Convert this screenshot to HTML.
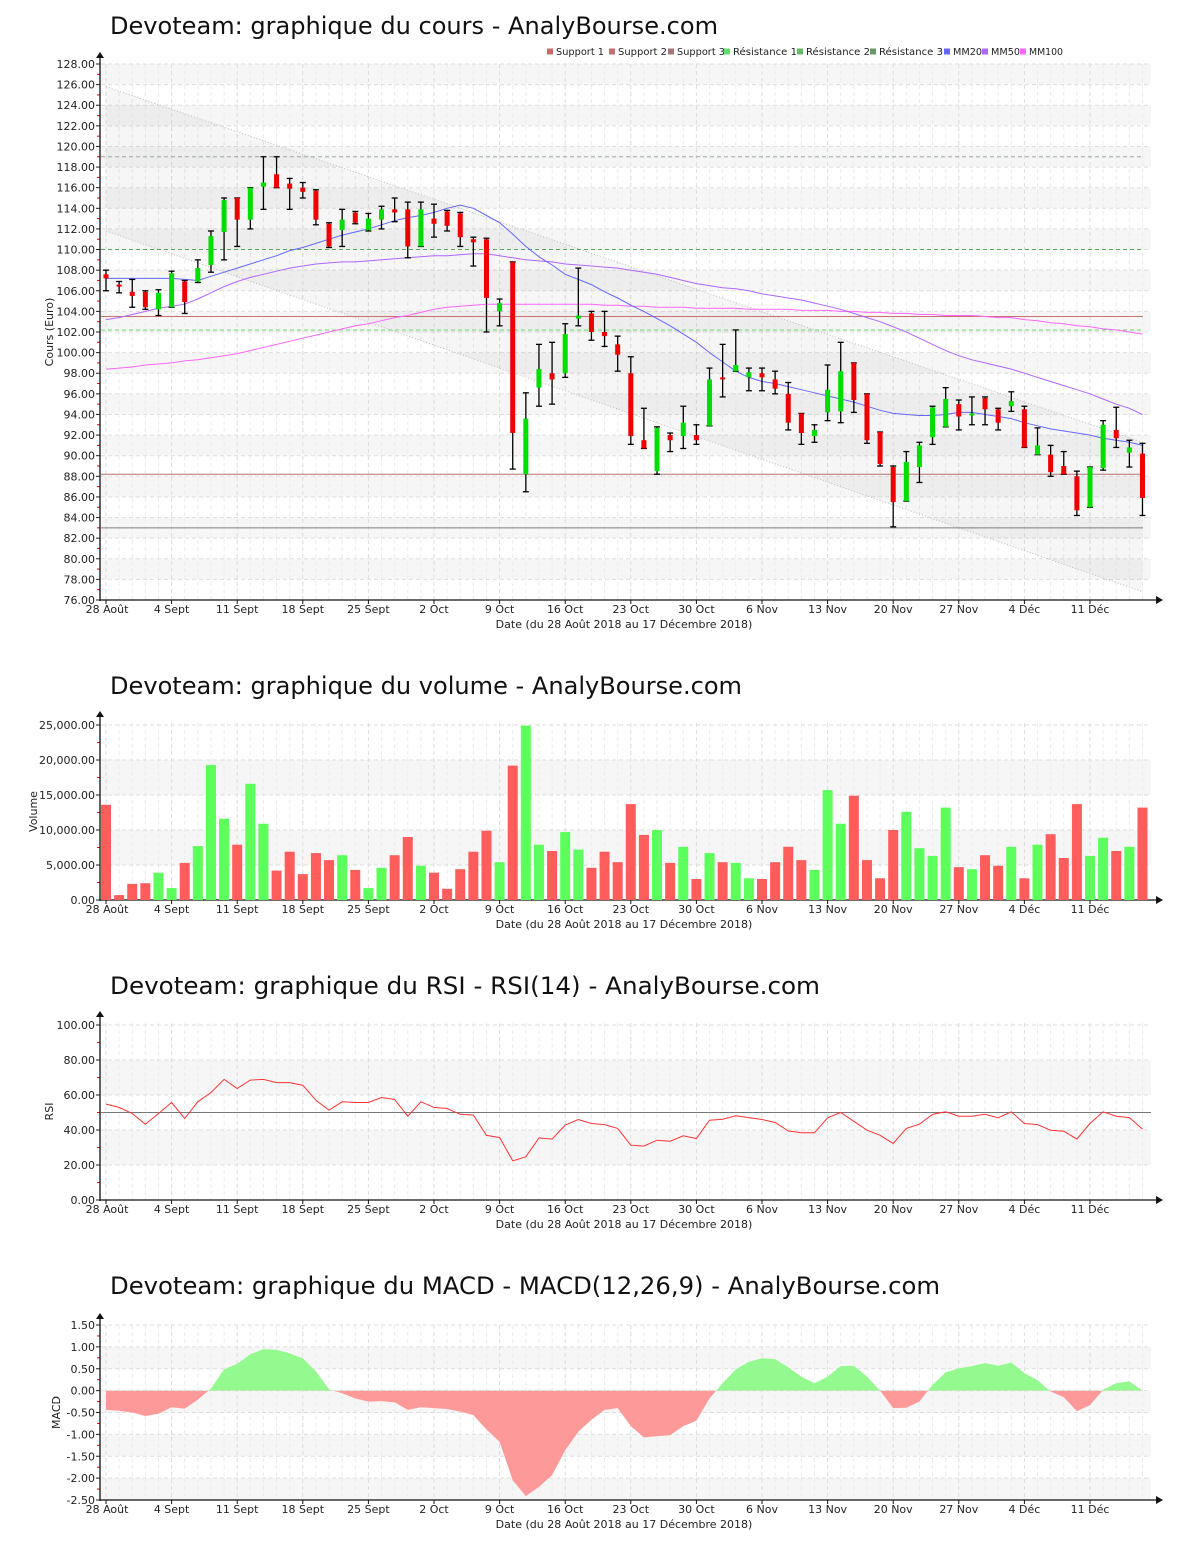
<!DOCTYPE html>
<html><head><meta charset="utf-8">
<style>
html,body{margin:0;padding:0;background:#fff;}
svg{display:block;font-family:"DejaVu Sans","Liberation Sans",sans-serif;}
</style></head>
<body>
<svg id="root" width="1200" height="1550" viewBox="0 0 1200 1550" xmlns="http://www.w3.org/2000/svg">
<defs>
<clipPath id="clipPrice"><rect x="101" y="64" width="1050" height="536"/></clipPath>
<clipPath id="clipMacdPos"><rect x="101" y="1310" width="1050" height="80.7"/></clipPath>
<clipPath id="clipMacdNeg"><rect x="101" y="1390.7" width="1050" height="115"/></clipPath>
</defs>
<text x="110" y="34" font-size="24" fill="#111" textLength="608" lengthAdjust="spacingAndGlyphs">Devoteam: graphique du cours - AnalyBourse.com</text>
<text x="110" y="694" font-size="24" fill="#111" textLength="632" lengthAdjust="spacingAndGlyphs">Devoteam: graphique du volume - AnalyBourse.com</text>
<text x="110" y="994" font-size="24" fill="#111" textLength="710" lengthAdjust="spacingAndGlyphs">Devoteam: graphique du RSI - RSI(14) - AnalyBourse.com</text>
<text x="110" y="1294" font-size="24" fill="#111" textLength="830" lengthAdjust="spacingAndGlyphs">Devoteam: graphique du MACD - MACD(12,26,9) - AnalyBourse.com</text>
<g id="layer"></g>
</svg>
<script>
// ---------- data ----------
const dateLabels = ["28 Août","4 Sept","11 Sept","18 Sept","25 Sept","2 Oct","9 Oct","16 Oct","23 Oct","30 Oct","6 Nov","13 Nov","20 Nov","27 Nov","4 Déc","11 Déc"];
const dateLabelIdx = [0,5,10,15,20,25,30,35,40,45,50,55,60,65,70,75];
const openP = [107.6,106.6,105.9,105.9,104.2,104.4,106.9,106.9,108.5,111.7,115,112.9,116.1,117.3,116.4,116,115.7,112.5,111.9,113.6,111.9,112.9,113.9,113.9,110.3,113,113.7,113.5,111,111,104,108.8,88.2,96.6,98,98,103.3,103.8,102,100.8,98,91.5,88.5,92,91.9,92,92.9,97.6,98.2,97.6,98,97.4,96,94.1,91.9,94.2,94.3,99,96,92.3,88.9,85.6,88.9,91.8,92.8,95,93.9,95.6,94.5,94.8,94.5,90.1,90.1,89,88,85,88.8,92.5,90.3,90.2];
const closeP = [107.2,106.4,105.5,104.4,105.8,107.7,104.9,108.2,111.3,114.8,112.9,116,116.5,116,115.9,115.6,112.9,110.3,112.9,112.6,113,113.9,113.6,110.3,113.9,112.5,112.3,111.2,110.7,105.3,104.8,92.2,93.6,98.4,97.4,101.8,103.6,102,101.6,99.8,91.9,90.7,92.7,91.5,93.2,91.5,97.4,97.4,98.8,98.1,97.6,96.5,93.2,92.2,92.5,96.4,98.2,95.4,91.5,89.2,85.5,89.4,91,94.7,95.5,93.8,94.1,94.5,93.2,95.3,90.8,91,88.4,88.2,84.7,88.9,93,91.7,90.8,85.9];
const highP = [108,106.9,107.1,106,106.1,107.9,107,109,111.8,115,115,116,119,119,116.9,116.5,115.8,112.6,113.9,113.7,113.5,114.2,115,114.6,114.6,114.4,113.8,113.6,111.2,111.1,105.2,108.8,96.1,100.8,101,102.8,108.2,104,104,101.6,99.6,94.6,92.8,92.2,94.8,93,98.5,100.8,102.2,98.5,98.5,98.2,97.1,94.1,93,98.8,101,99,96,92.3,89,90.4,91.3,94.8,96.6,95.4,95.7,95.7,94.6,96.2,94.8,92.7,91,90.4,88.5,88.9,93.4,94.7,91.5,91.2];
const lowP = [106,105.8,104.4,104.2,103.6,104.4,103.8,106.8,107.8,109,110.3,112,113.9,116,113.9,115,112.4,110.2,110.3,112.5,111.8,112,112.7,109.2,110.3,111.2,111.8,110.3,108.4,102,102.6,88.7,86.5,94.8,95,97.6,102.6,101.2,100.6,98.2,91.1,90.7,88.2,90.4,90.7,91.1,92.9,95.7,98.2,96.3,96.3,96,92.5,91.1,91.3,93.4,93.2,94.2,91.2,89,83.1,85.6,87.4,91.1,92.8,92.5,93,93,92.5,94.3,90.8,90.1,88,88.2,84.2,85,88.6,90.8,88.9,84.2];
const mm20 = [107.2,107.2,107.2,107.2,107.2,107.2,107.1,107.0,107.4,107.8,108.2,108.6,109.0,109.4,109.9,110.2,110.6,111.0,111.4,111.7,112.0,112.4,112.8,113.1,113.3,113.6,114.0,114.3,114.0,113.3,112.6,111.5,110.3,109.3,108.5,107.6,107.1,106.6,105.9,105.3,104.6,104.0,103.3,102.6,101.8,101.0,100.0,99.1,98.2,97.6,97.2,97.0,96.7,96.4,96.1,95.8,95.5,95.2,94.8,94.4,94.1,94.0,93.9,93.9,94.0,94.2,94.2,94.0,93.8,93.6,93.2,92.9,92.6,92.4,92.2,92.0,91.7,91.5,91.3,91.0];
const mm50 = [103.2,103.4,103.7,104.0,104.3,104.5,104.7,105.2,105.8,106.4,106.9,107.3,107.6,107.9,108.2,108.4,108.6,108.7,108.8,108.8,108.9,109.0,109.1,109.2,109.3,109.4,109.4,109.5,109.6,109.6,109.4,109.2,109.0,108.9,108.8,108.6,108.5,108.4,108.3,108.2,108.0,107.8,107.6,107.3,107.0,106.7,106.5,106.3,106.2,106.0,105.7,105.5,105.3,105.1,104.8,104.5,104.2,103.8,103.4,103.0,102.5,102.0,101.4,100.8,100.2,99.7,99.3,99.0,98.7,98.4,98.0,97.6,97.2,96.8,96.4,96.0,95.5,95.0,94.6,94.0];
const mm100 = [98.4,98.5,98.6,98.8,98.9,99.0,99.2,99.3,99.5,99.7,99.9,100.2,100.5,100.8,101.1,101.4,101.7,102.0,102.3,102.6,102.8,103.1,103.4,103.6,103.9,104.2,104.4,104.5,104.6,104.7,104.7,104.7,104.7,104.7,104.7,104.7,104.7,104.7,104.6,104.6,104.5,104.5,104.4,104.4,104.4,104.3,104.3,104.3,104.3,104.2,104.2,104.2,104.2,104.1,104.1,104.1,104.0,104.0,103.9,103.9,103.8,103.8,103.7,103.7,103.6,103.6,103.6,103.5,103.4,103.4,103.2,103.1,102.9,102.8,102.6,102.5,102.3,102.2,102.0,101.8];
const supportLevels = [103.5,88.2,83.0];
const resistanceLevels = [102.2,110.0,119.0];
const channelUpper = [125.8,91.3];
const channelLower = [111.8,76.8];
const volumes = [13600,700,2300,2400,3900,1700,5300,7700,19300,11600,7900,16600,10900,4200,6900,3700,6700,5700,6400,4300,1700,4600,6400,9000,4900,3900,1600,4400,6900,9900,5400,19200,24900,7900,7000,9700,7200,4600,6900,5400,13700,9300,10000,5300,7600,3000,6700,5400,5300,3100,3000,5400,7600,5700,4300,15700,10900,14900,5700,3100,10000,12600,7400,6300,13200,4700,4400,6400,4900,7600,3100,7900,9400,6000,13700,6300,8900,7000,7600,13200];
const rsi = [54.8,52.9,49.4,43.3,49.4,55.7,46.6,56.1,61.4,68.9,63.7,68.5,68.9,67.1,67.1,65.6,57,51.3,56.1,55.7,55.7,58.6,57.4,47.9,56.1,52.9,52.3,49,48.5,36.9,35.7,22.4,24.7,35.5,34.8,42.8,46,43.7,43.1,40.9,31.3,30.8,34.2,33.6,36.7,35.1,45.6,46.2,48.1,47.1,46,44.3,39.5,38.4,38.4,47,50,45,39.9,37,32.3,40.9,43.3,48.9,50.4,47.9,47.9,49,47,50.4,43.7,43.1,39.9,39.3,34.8,43.7,50.4,47.9,47.1,40.5];
const macd = [-0.44,-0.46,-0.5,-0.58,-0.53,-0.38,-0.41,-0.21,0.05,0.49,0.61,0.83,0.95,0.93,0.85,0.74,0.44,0.03,-0.06,-0.18,-0.25,-0.24,-0.27,-0.44,-0.38,-0.4,-0.42,-0.48,-0.56,-0.89,-1.17,-2.05,-2.41,-2.2,-1.93,-1.36,-0.94,-0.67,-0.44,-0.4,-0.81,-1.07,-1.04,-1.02,-0.81,-0.69,-0.18,0.17,0.49,0.66,0.74,0.72,0.53,0.32,0.17,0.32,0.56,0.57,0.32,0,-0.4,-0.39,-0.25,0.13,0.42,0.51,0.56,0.63,0.57,0.64,0.4,0.24,-0.02,-0.15,-0.47,-0.33,0.02,0.17,0.21,0];
const priceTicks = [76,78,80,82,84,86,88,90,92,94,96,98,100,102,104,106,108,110,112,114,116,118,120,122,124,126,128];
const volTicks = [0,5000,10000,15000,20000,25000];
const rsiTicks = [0,20,40,60,80,100];
const macdTicks = [-2.5,-2,-1.5,-1,-0.5,0,0.5,1,1.5];

// ---------- helpers ----------
const NS = "http://www.w3.org/2000/svg";
const layer = document.getElementById("layer");
function mk(tag, attrs, parent) {
  const e = document.createElementNS(NS, tag);
  for (const k in attrs) e.setAttribute(k, attrs[k]);
  (parent || layer).appendChild(e);
  return e;
}
const X0 = 106, DX = 13.12, PL = 101, PR = 1151;
function xd(i) { return X0 + DX * i; }
function linScale(v0, y0, v1, y1) { return v => y0 + (v - v0) * (y1 - y0) / (v1 - v0); }
const yPrice = linScale(76, 600, 128, 64);
const yVol = linScale(0, 900, 25000, 725);
const yRsi = linScale(0, 1200, 100, 1025);
const yMacd = linScale(-2.5, 1500, 1.5, 1325);

function fmt2(v) { return v.toFixed(2); }
function fmtThousands(v) { return v.toFixed(2).replace(/\B(?=(\d{3})+(?!\d))/g, ","); }

function panel(name, top, bottom, ticks, yf, fmt, yTitle, yTitleX, bandOdd) {
  const g = mk("g", {});
  
  
  for (let k = 0; k < ticks.length - 1; k++) {
    if ((k % 2 === 1) === bandOdd) {
      const r = mk("rect", {x: PL, y: yf(ticks[k+1]), width: PR - PL, height: yf(ticks[k]) - yf(ticks[k+1]), fill: "#f6f6f6"}, g);
      
      
    }
  }
  for (let i = 0; i < 80; i++) {
    const major = dateLabelIdx.indexOf(i) >= 0;
    const l = mk("line", {x1: xd(i), x2: xd(i), y1: top, y2: bottom, stroke: major ? "#dcdcdc" : "#ececec", "stroke-width": 1, "stroke-dasharray": "4,3"}, g);
    
    
  }
  for (let k = 0; k < ticks.length; k++) {
    const y = yf(ticks[k]);
    const gl = mk("line", {x1: PL, x2: PR, y1: y, y2: y, stroke: "#dedede", "stroke-dasharray": "4,3"}, g);
    
    
    const tk = mk("line", {x1: 96, x2: 100, y1: y, y2: y, stroke: "#222"}, g);
    
    
    if (k < ticks.length - 1) {
      const ym = (y + yf(ticks[k+1])) / 2;
      const mt = mk("line", {x1: 97, x2: 100, y1: ym, y2: ym, stroke: "#e00"}, g);
      
      
    }
    const t = mk("text", {x: 95, y: y + 4, "font-size": 11, "text-anchor": "end", fill: "#222"}, g);
    t.textContent = fmt(ticks[k]);
    
    
  }
  const ya = mk("line", {x1: 100, x2: 100, y1: top - 8, y2: bottom + 1, stroke: "#111", "stroke-width": 1.3}, g);
  
  
  const yar = mk("path", {d: `M96,${top-6} L100,${top-12} L104,${top-6} Z`, fill: "#111"}, g);
  
  
  const xa = mk("line", {x1: 100, x2: 1158, y1: bottom, y2: bottom, stroke: "#111", "stroke-width": 1.3}, g);
  
  
  const xar = mk("path", {d: `M1156,${bottom-4} L1163,${bottom} L1156,${bottom+4} Z`, fill: "#111"}, g);
  
  
  for (let j = 0; j < dateLabels.length; j++) {
    const x = xd(dateLabelIdx[j]);
    const tk = mk("line", {x1: x, x2: x, y1: bottom, y2: bottom + 4, stroke: "#111"}, g);
    
    
    const t = mk("text", {x: j === 0 ? x + 1 : x, y: bottom + 13, "font-size": 11, "text-anchor": "middle", fill: "#222"}, g);
    t.textContent = dateLabels[j];
    
    
  }
  const xt = mk("text", {x: 624, y: bottom + 28, "font-size": 11, "text-anchor": "middle", fill: "#222"}, g);
  xt.textContent = "Date (du 28 Août 2018 au 17 Décembre 2018)";
  
  
  const cy = (top + bottom) / 2;
  const yt = mk("text", {x: yTitleX, y: cy, "font-size": 11, "text-anchor": "middle", fill: "#222", transform: `rotate(-90 ${yTitleX} ${cy})`}, g);
  yt.textContent = yTitle;
  
  
  return g;
}

// ---------- price panel ----------
const gp = panel("price", 64, 600, priceTicks, yPrice, fmt2, "Cours (Euro)", 53, true);
const chan = mk("polygon", {points: `${xd(0)},${yPrice(channelUpper[0])} ${xd(79)},${yPrice(channelUpper[1])} ${xd(79)},${yPrice(channelLower[1])} ${xd(0)},${yPrice(channelLower[0])}`, fill: "rgba(0,0,0,0.035)", "clip-path": "url(#clipPrice)"}, gp);


const cu = mk("line", {x1: xd(0), y1: yPrice(channelUpper[0]), x2: xd(79), y2: yPrice(channelUpper[1]), stroke: "#bbb", "stroke-dasharray": "1,2"}, gp);


const cl = mk("line", {x1: xd(0), y1: yPrice(channelLower[0]), x2: xd(79), y2: yPrice(channelLower[1]), stroke: "#bbb", "stroke-dasharray": "1,2"}, gp);



const supColors = ["#c87070", "#b87070", "#808080"];
for (let k = 0; k < supportLevels.length; k++) {
  const y = yPrice(supportLevels[k]);
  const l = mk("line", {x1: PL, x2: 1143, y1: y, y2: y, stroke: supColors[k], "stroke-width": 1}, gp);
  
  
}
const resColors = ["#66dd66", "#55aa55", "#99aa99"];
for (let k = 0; k < resistanceLevels.length; k++) {
  const y = yPrice(resistanceLevels[k]);
  const l = mk("line", {x1: PL, x2: 1143, y1: y, y2: y, stroke: resColors[k], "stroke-width": 1, "stroke-dasharray": "4,3"}, gp);
  
  
}
function maPath(arr) { return arr.map((v, i) => (i ? "L" : "M") + xd(i).toFixed(1) + "," + yPrice(v).toFixed(1)).join(" "); }
const l100 = mk("path", {d: maPath(mm100), fill: "none", stroke: "#ff66ff", "stroke-width": 1}, gp);


const l50 = mk("path", {d: maPath(mm50), fill: "none", stroke: "#b066ff", "stroke-width": 1}, gp);


const l20 = mk("path", {d: maPath(mm20), fill: "none", stroke: "#6666ff", "stroke-width": 1}, gp);



for (let i = 0; i < 80; i++) {
  const x = xd(i);
  const cg = mk("g", {}, gp);
  
  
  const yh = yPrice(highP[i]), yl = yPrice(lowP[i]);
  mk("line", {x1: x, x2: x, y1: yh, y2: yl, stroke: "#000", "stroke-width": 1.3}, cg);
  mk("line", {x1: x - 3, x2: x + 3, y1: yh, y2: yh, stroke: "#000", "stroke-width": 1.3}, cg);
  mk("line", {x1: x - 3, x2: x + 3, y1: yl, y2: yl, stroke: "#000", "stroke-width": 1.3}, cg);
  const up = closeP[i] >= openP[i];
  const yt = yPrice(Math.max(openP[i], closeP[i])), yb = yPrice(Math.min(openP[i], closeP[i]));
  const body = mk("rect", {x: x - 2.5, y: yt, width: 5, height: Math.max(2, yb - yt), fill: up ? "#00dd00" : "#ee0000"}, cg);
  
  
}

// legend
const legendItems = [["Support 1","#d06868",547,48],["Support 2","#c07070",609,49],["Support 3","#a07878",668,48],["Résistance 1","#66dd66",724,64],["Résistance 2","#66bb66",797,64],["Résistance 3","#669966",870,64],["MM20","#6666ff",944,29],["MM50","#b066ff",982,29],["MM100","#ff66ff",1020,34]];
for (const it of legendItems) {
  const lg = mk("g", {});
  
  
  mk("rect", {x: it[2], y: 48.5, width: 6, height: 6, fill: it[1]}, lg);
  const t = mk("text", {x: it[2] + 9, y: 55, "font-size": 10, fill: "#222", textLength: it[3], lengthAdjust: "spacingAndGlyphs"}, lg);
  t.textContent = it[0];
}

// ---------- volume panel ----------
const gv = panel("volume", 723, 900, volTicks, yVol, fmtThousands, "Volume", 37, true);
for (let i = 0; i < 80; i++) {
  const up = closeP[i] >= openP[i];
  const y = yVol(volumes[i]);
  const b = mk("rect", {x: xd(i) - 5, y: y, width: 10, height: 900 - y, fill: up ? "#5cff5c" : "#ff5c5c"}, gv);
  
  
}

// ---------- RSI panel ----------
const gr = panel("rsi", 1023, 1200, rsiTicks, yRsi, fmt2, "RSI", 53, true);
const r50 = mk("line", {x1: PL, x2: PR, y1: yRsi(50), y2: yRsi(50), stroke: "#777", "stroke-width": 1}, gr);


const rl = mk("path", {d: rsi.map((v, i) => (i ? "L" : "M") + xd(i).toFixed(1) + "," + yRsi(v).toFixed(1)).join(" "), fill: "none", stroke: "#ff3333", "stroke-width": 1}, gr);



// ---------- MACD panel ----------
const gm = panel("macd", 1325, 1500, macdTicks, yMacd, fmt2, "MACD", 60, false);
const y0 = yMacd(0);
const areaD = "M" + xd(0) + "," + y0 + " " + macd.map((v, i) => "L" + xd(i).toFixed(1) + "," + yMacd(v).toFixed(1)).join(" ") + " L" + xd(79) + "," + y0 + " Z";
const pos = mk("path", {d: areaD, fill: "#94fa8f", "clip-path": "url(#clipMacdPos)"}, gm);


const neg = mk("path", {d: areaD, fill: "#fe9999", "clip-path": "url(#clipMacdNeg)"}, gm);


</script>
</body></html>
